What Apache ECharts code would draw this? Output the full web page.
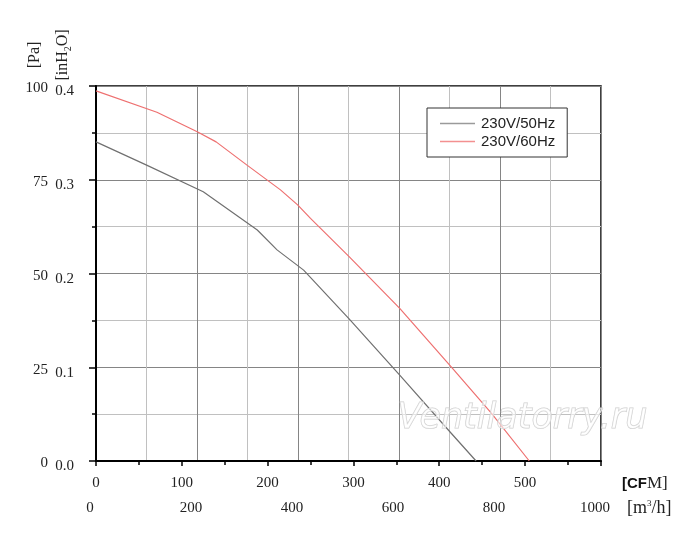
<!DOCTYPE html>
<html>
<head>
<meta charset="utf-8">
<script src="https://cdn.jsdelivr.net/npm/echarts@6/dist/echarts.min.js"></script>
<style>
html,body{margin:0;padding:0;background:#fff;}
#c{width:700px;height:546px;}
</style>
</head>
<body>
<div id="c"></div>
<script>
// ---- data ----
const seriesNames = ['230V/50Hz', '230V/60Hz'];
const seriesColors = ['#707070', '#ee7070'];
const cfm50 = [0, 59, 125, 188, 211, 242, 295, 354, 414, 443];
const pa50  = [85.1, 78.9, 71.8, 61.6, 56.3, 50.9, 37.9, 22.9, 7.4, 0];
const cfm60 = [0, 71, 118, 140, 176, 215, 235, 250, 295, 354, 414, 461, 505];
const pa60  = [98.7, 93.0, 87.8, 85.1, 78.9, 72.3, 68.3, 64.7, 54.5, 40.7, 25.1, 12.7, 0];
const cfmTicks = [0, 100, 200, 300, 400, 500];
const m3hTicks = [0, 200, 400, 600, 800, 1000];
const paTicks = [0, 25, 50, 75, 100];
const inh2oTicks = [0.0, 0.1, 0.2, 0.3, 0.4];
const M3H_PER_CFM = 1.699;

function pairs(xs, ys){ return xs.map((x,i)=>[x, ys[i]]); }

const serif = '"Liberation Serif","DejaVu Serif",serif';
const sans = '"Liberation Sans",Arial,sans-serif';

const chart = echarts.init(document.getElementById('c'));
chart.setOption({
  animation: false,
  backgroundColor: '#fff',
  grid: {left: 96, top: 86, right: 99, bottom: 85, show: true, borderColor: '#000', borderWidth: 1.5, backgroundColor: 'transparent'},
  legend: {
    orient: 'vertical', left: 427, top: 108,
    padding: [8, 12, 8, 13], itemGap: 3,
    itemWidth: 35, itemHeight: 1.5, icon: 'rect',
    backgroundColor: '#fff', borderColor: '#333', borderWidth: 1,
    textStyle: {fontFamily: sans, fontSize: 15, color: '#222', padding: [0, 0, 0, 1]},
    data: [
      {name: seriesNames[0], itemStyle: {color: '#9a9a9a'}},
      {name: seriesNames[1], itemStyle: {color: '#f39090'}}
    ]
  },
  xAxis: [
    {
      type: 'value', position: 'bottom', min: 0, max: 1000 / M3H_PER_CFM, interval: 100,
      axisLine: {show: true, onZero: false, lineStyle: {color: '#000', width: 2}},
      axisTick: {show: true, length: 5, lineStyle: {color: '#000', width: 1.5}},
      minorTick: {show: true, splitNumber: 2, length: 4, lineStyle: {color: '#000', width: 1.5}},
      splitLine: {show: false},
      axisLabel: {
        margin: 15, fontFamily: serif, fontSize: 15, color: '#222', showMaxLabel: false,
        formatter: v => cfmTicks.includes(Math.round(v)) && Math.abs(v - Math.round(v)) < 1e-6 ? String(v) : ''
      }
    },
    {
      type: 'value', position: 'bottom', min: 0, max: 1000, interval: 200,
      axisLine: {show: false}, axisTick: {show: false},
      minorTick: {show: false, splitNumber: 2},
      splitLine: {show: true, lineStyle: {color: '#858585', width: 1}},
      minorSplitLine: {show: true, lineStyle: {color: '#c0c0c0', width: 1}},
      axisLabel: {
        margin: 40, fontFamily: serif, fontSize: 15, color: '#222', padding: [0, 12, 0, 0],
        formatter: v => m3hTicks.includes(v) ? String(v) : ''
      }
    }
  ],
  yAxis: [
    {
      type: 'value', min: 0, max: 100, interval: 25, position: 'left',
      axisLine: {show: true, onZero: false, lineStyle: {color: '#000', width: 2}},
      axisTick: {show: true, length: 7, lineStyle: {color: '#000', width: 1.5}},
      minorTick: {show: true, splitNumber: 2, length: 4, lineStyle: {color: '#000', width: 1.5}},
      splitLine: {show: true, lineStyle: {color: '#858585', width: 1}},
      minorSplitLine: {show: true, lineStyle: {color: '#c0c0c0', width: 1}},
      axisLabel: {
        margin: 48, color: '#222',
        formatter: v => paTicks.includes(v) ? '{a|' + v + '}' : '',
        rich: {a: {fontFamily: serif, fontSize: 15, color: '#222', padding: [5, 0, 0, 0]}}
      }
    },
    {
      type: 'value', min: 0, max: 0.4, interval: 0.1, position: 'left', offset: 0,
      axisLine: {show: false}, axisTick: {show: false}, splitLine: {show: false},
      axisLabel: {
        margin: 22, color: '#222',
        formatter: v => inh2oTicks.some(t => Math.abs(t - v) < 1e-9) ? '{a|' + v.toFixed(1) + '}' : '',
        rich: {a: {fontFamily: serif, fontSize: 15, color: '#222', padding: [11, 0, 0, 0]}}
      }
    }
  ],
  series: [
    {
      name: seriesNames[0], type: 'line', xAxisIndex: 0, yAxisIndex: 0,
      data: pairs(cfm50, pa50), symbol: 'none', smooth: false,
      lineStyle: {color: seriesColors[0], width: 1.2}, itemStyle: {color: seriesColors[0]}, z: 3
    },
    {
      name: seriesNames[1], type: 'line', xAxisIndex: 0, yAxisIndex: 0,
      data: pairs(cfm60, pa60), symbol: 'none', smooth: false,
      lineStyle: {color: seriesColors[1], width: 1.2}, itemStyle: {color: seriesColors[1]}, z: 3
    }
  ],
  graphic: [
    {
      type: 'text', left: 397, top: 401, z: 100, silent: true,
      style: {
        text: 'Ventilatorry.ru', font: 'oblique 35px "DejaVu Sans", sans-serif',
        fill: 'rgba(255,255,255,0.55)', stroke: '#cdcdcd', lineWidth: 1
      }
    },
    {
      type: 'text', x: 35, y: 55, rotation: Math.PI / 2, z: 10,
      style: {text: '[Pa]', font: '16px ' + serif, fill: '#222', align: 'center', verticalAlign: 'middle'}
    },
    {
      type: 'text', x: 63, y: 55, rotation: Math.PI / 2, z: 10,
      style: {
        text: '{a|[inH}{s|2}{a|O]}', align: 'center', verticalAlign: 'middle',
        rich: {
          a: {font: '16px ' + serif, fill: '#222'},
          s: {font: '10px ' + serif, fill: '#222', padding: [10, 0, 0, 0]}
        }
      }
    },
    {
      type: 'text', left: 622, top: 475, z: 10,
      style: {
        text: '{b|[CF}{r|M]}',
        rich: {
          b: {font: 'bold 15px ' + sans, fill: '#111'},
          r: {font: '17px ' + serif, fill: '#222'}
        }
      }
    },
    {
      type: 'text', left: 627, top: 499, z: 10,
      style: {
        text: '{r|[m}{s|3}{r|/h]}',
        rich: {
          r: {font: '18px ' + serif, fill: '#222'},
          s: {font: '9px ' + serif, fill: '#222', padding: [0, 0, 8, 0]}
        }
      }
    }
  ]
});
</script>
</body>
</html>
